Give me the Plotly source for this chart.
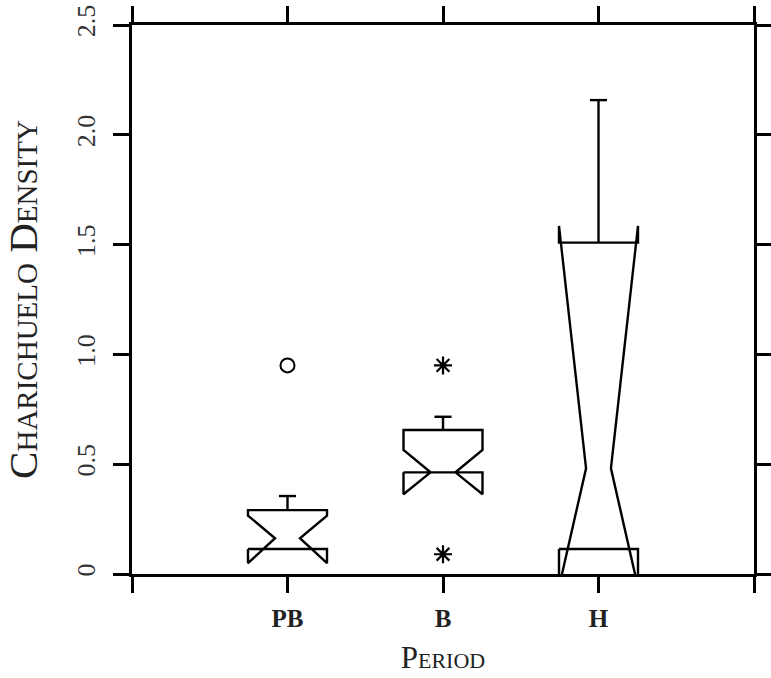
import plotly.graph_objects as go

# ---- data ----
categories = ["PB", "B", "H"]
q1 = [0.114, 0.463, 0.114]
median = [0.163, 0.463, 0.481]
q3 = [0.291, 0.656, 1.509]
notch_low = [0.049, 0.363, -0.06]
notch_high = [0.266, 0.565, 1.585]
whisker_low = [0.114, 0.463, 0.114]
whisker_high = [0.355, 0.716, 2.158]
outlier_cat = ["PB"]
outlier_val = [0.95]
extreme_cat = ["B", "B"]
extreme_val = [0.95, 0.09]

y_ticks = [0, 0.5, 1.0, 1.5, 2.0, 2.5]
y_ticktext = ["0", "0.5", "1.0", "1.5", "2.0", "2.5"]

# ---- style ----
BOX_HW = 0.254
NOTCH_HW = 0.08
CAP_HW = 0.055
LINE = dict(color="black", width=2.4)
SERIF = "Liberation Serif, DejaVu Serif, serif"

pos = {c: i + 1 for i, c in enumerate(categories)}

fig = go.Figure()
for i, c in enumerate(categories):
    x0 = pos[c]
    xs = [x0 - BOX_HW, x0 - BOX_HW, x0 - NOTCH_HW, x0 - BOX_HW, x0 - BOX_HW,
          x0 + BOX_HW, x0 + BOX_HW, x0 + NOTCH_HW, x0 + BOX_HW, x0 + BOX_HW, x0 - BOX_HW]
    ys = [q1[i], notch_low[i], median[i], notch_high[i], q3[i],
          q3[i], notch_high[i], median[i], notch_low[i], q1[i], q1[i]]
    fig.add_trace(go.Scatter(x=xs, y=ys, mode="lines", line=LINE,
                             hoverinfo="skip", showlegend=False))
    wx, wy = [], []
    if whisker_high[i] > q3[i]:
        wx += [x0, x0, None, x0 - CAP_HW, x0 + CAP_HW, None]
        wy += [q3[i], whisker_high[i], None, whisker_high[i], whisker_high[i], None]
    if whisker_low[i] < q1[i]:
        wx += [x0, x0, None, x0 - CAP_HW, x0 + CAP_HW, None]
        wy += [q1[i], whisker_low[i], None, whisker_low[i], whisker_low[i], None]
    if wx:
        fig.add_trace(go.Scatter(x=wx, y=wy, mode="lines", line=LINE,
                                 hoverinfo="skip", showlegend=False))

fig.add_trace(go.Scatter(
    x=[pos[c] for c in outlier_cat], y=outlier_val, mode="markers",
    marker=dict(symbol="circle-open", size=14, color="black", line=dict(width=2)),
    showlegend=False))
fig.add_trace(go.Scatter(
    x=[pos[c] for c in extreme_cat], y=extreme_val, mode="markers",
    marker=dict(symbol="asterisk-open", size=15, color="black", line=dict(width=2.2)),
    showlegend=False))

axis_common = dict(showline=True, linecolor="black", linewidth=3, mirror="ticks",
                   ticks="outside", ticklen=16, tickwidth=3, tickcolor="black",
                   showgrid=False, zeroline=False)

fig.update_xaxes(
    range=[0, len(categories) + 1],
    tickvals=list(range(0, len(categories) + 2)),
    ticktext=[""] + categories + [""],
    tickfont=dict(family=SERIF, size=25, color="#222", weight="bold"),
    ticklabelstandoff=4,
    title=dict(text="Period",
               font=dict(family=SERIF, size=31, color="#222", variant="small-caps"),
               standoff=16),
    **axis_common)
fig.update_yaxes(
    range=[0, 2.5],
    tickvals=y_ticks, ticktext=y_ticktext, tickangle=-90,
    tickfont=dict(family=SERIF, size=26, color="#333"),
    ticklabelstandoff=8,
    title=dict(text="Charichuelo Density",
               font=dict(family=SERIF, size=41, color="#222", variant="small-caps"),
               standoff=24),
    **axis_common)

fig.update_layout(
    width=771, height=678,
    margin=dict(l=132, r=17, t=25, b=104, autoexpand=False),
    plot_bgcolor="white", paper_bgcolor="white",
)
fig.update_xaxes(automargin=False)
fig.update_yaxes(automargin=False)

fig.write_html("out.html")
